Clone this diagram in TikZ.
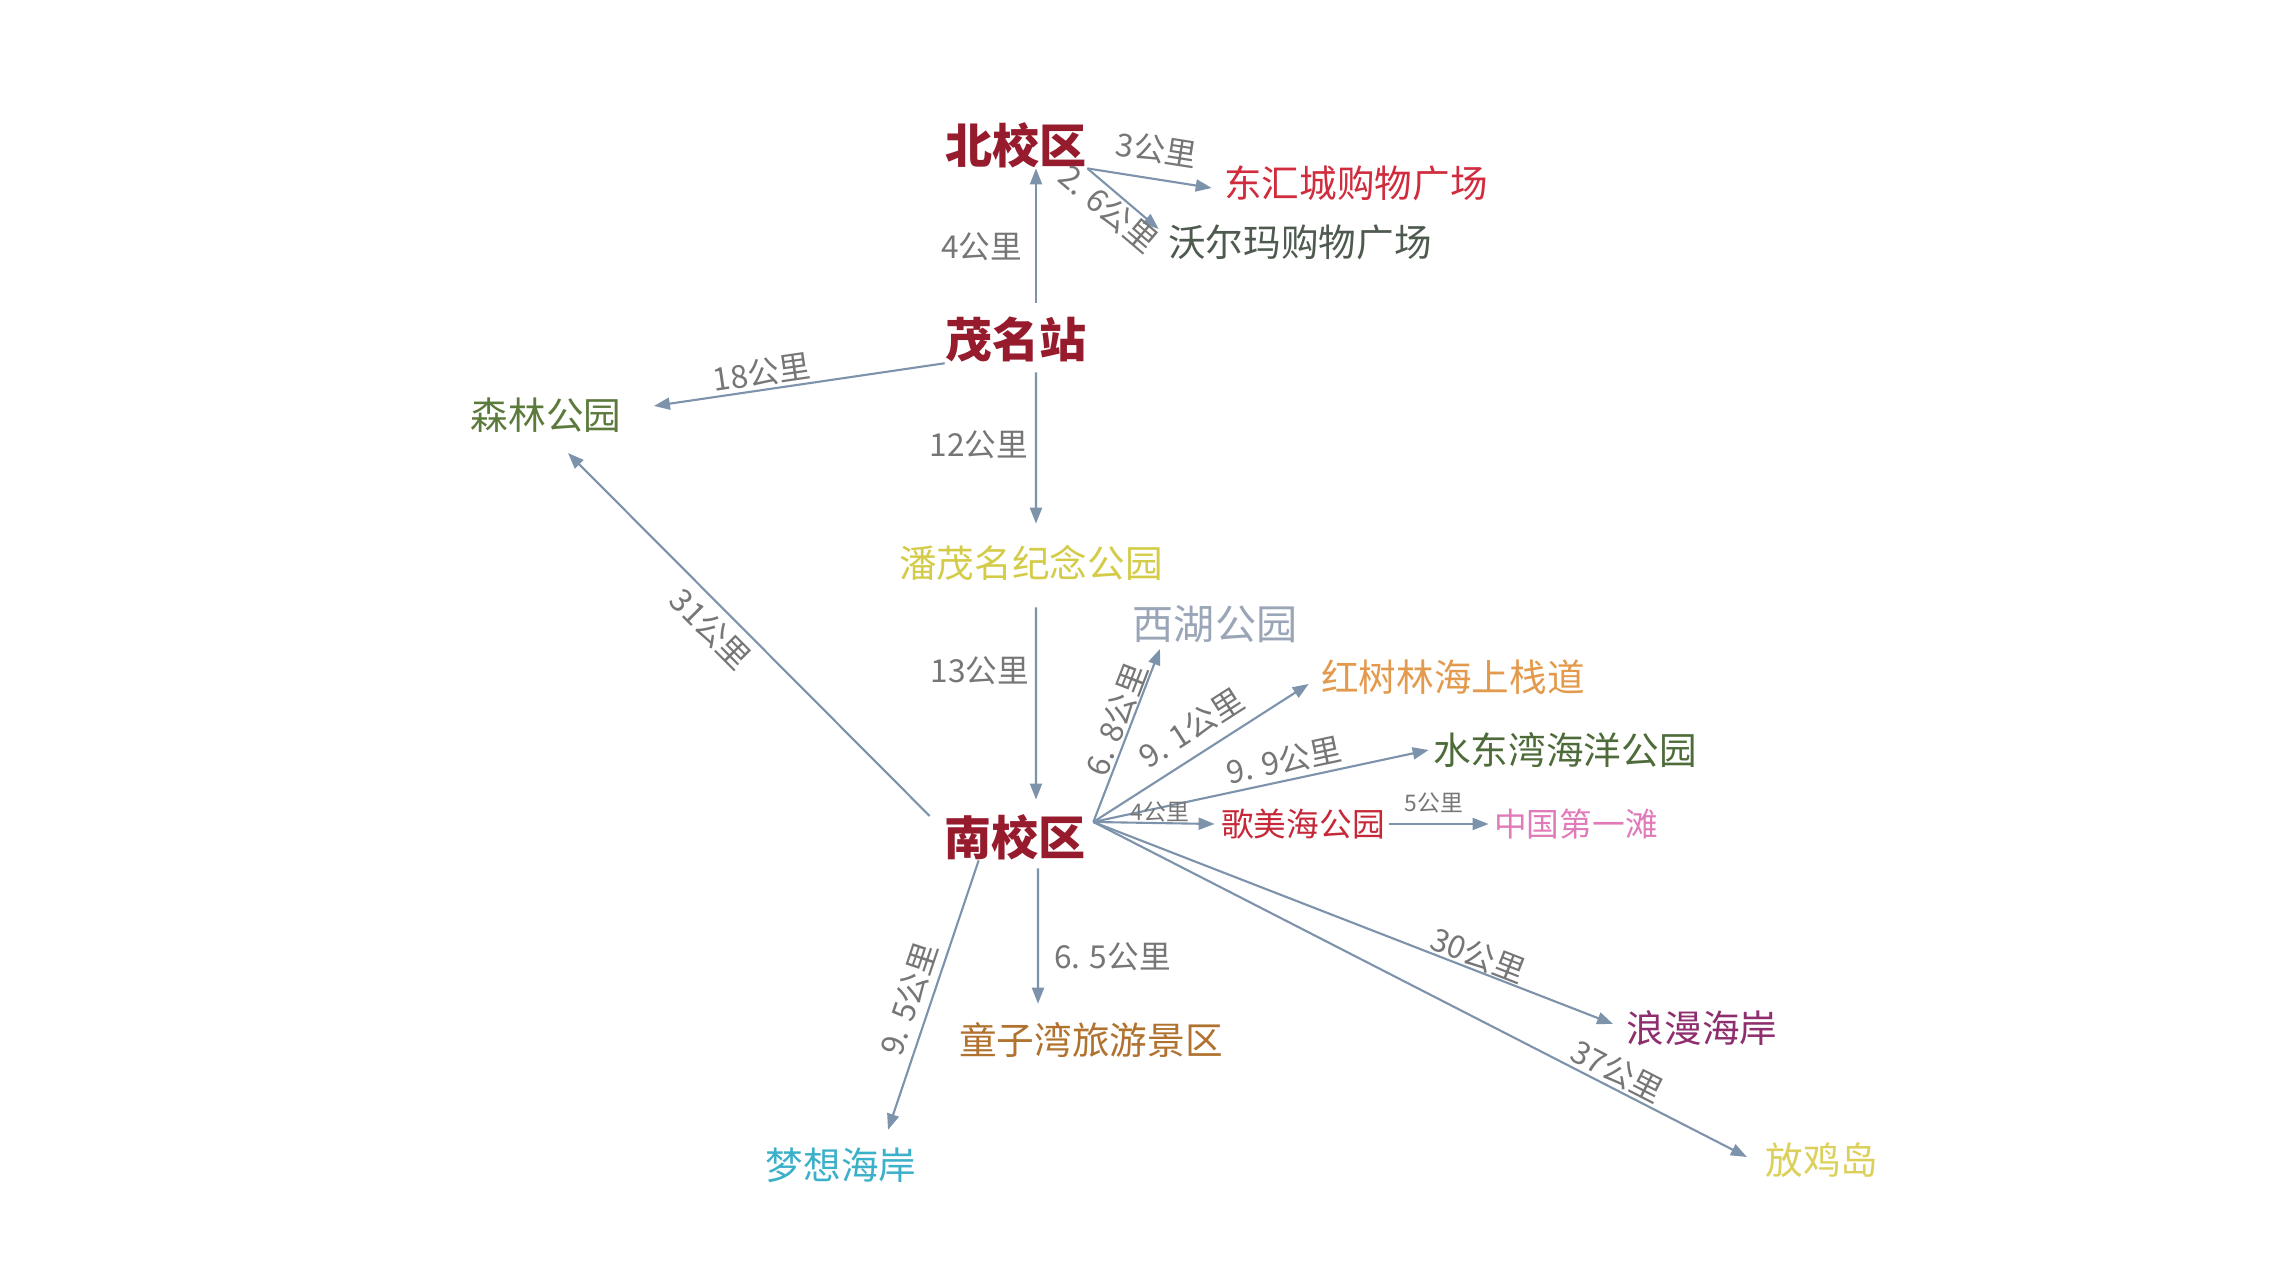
\documentclass[tikz,border=0pt]{standalone}
\usepackage{fontspec}
\setmainfont{Noto Sans CJK SC}
\usetikzlibrary{arrows.meta}
\definecolor{campusred}{HTML}{961B2D}
\definecolor{donghuired}{HTML}{D02C3E}
\definecolor{walmartgray}{HTML}{4F5A4F}
\definecolor{forestgreen}{HTML}{5B7A3C}
\definecolor{panyellow}{HTML}{D4CC48}
\definecolor{xihublue}{HTML}{9AA6B8}
\definecolor{mangroveorange}{HTML}{E39A4C}
\definecolor{seagreen}{HTML}{4E6B3A}
\definecolor{gemeired}{HTML}{C62838}
\definecolor{beachpink}{HTML}{E07AB8}
\definecolor{romancepurple}{HTML}{8E2E6E}
\definecolor{islandyellow}{HTML}{DCD05A}
\definecolor{bayorange}{HTML}{B0722E}
\definecolor{dreamcyan}{HTML}{3BB0C9}
\definecolor{distgray}{HTML}{767676}
\definecolor{roadblue}{HTML}{7D93AB}
\begin{document}
\begin{tikzpicture}[
  every node/.style={inner sep=0pt},
  campus/.style={font=\fontsize{13.4}{15}\selectfont\bfseries, text=campusred},
  spot/.style={font=\fontsize{10.7}{12}\selectfont},
  dist/.style={font=\fontsize{9}{10}\selectfont, text=distgray},
  distsmall/.style={font=\fontsize{6.5}{7}\selectfont, text=distgray},
  road/.style={draw=roadblue, line width=0.6pt, -{Triangle[length=1.6mm,width=1.2mm]}}
]
\fill[white] (0,0) rectangle (22.74,-12.80);
\useasboundingbox (0,0) rectangle (22.74,-12.80);
% campuses and station
\node[campus] (bei) at (10.16,-1.45) {北校区};
\node[campus] (maoming) at (10.16,-3.40) {茂名站};
\node[campus] (nan) at (10.15,-8.37) {南校区};
% places
\node[spot, text=donghuired] (donghui) at (13.56,-1.83) {东汇城购物广场};
\node[spot, text=walmartgray] (walmart) at (13.00,-2.42) {沃尔玛购物广场};
\node[spot, text=forestgreen] (senlin) at (5.46,-4.15) {森林公园};
\node[spot, text=panyellow] (panmaoming) at (10.31,-5.63) {潘茂名纪念公园};
\node[spot, text=xihublue, font=\fontsize{11.7}{13}\selectfont] (xihu) at (12.15,-6.24) {西湖公园};
\node[spot, text=mangroveorange] (hongshu) at (14.53,-6.77) {红树林海上栈道};
\node[spot, text=seagreen] (shuidong) at (15.65,-7.50) {水东湾海洋公园};
\node[spot, text=gemeired, font=\fontsize{9.3}{11}\selectfont] (gemei) at (13.03,-8.24) {歌美海公园};
\node[spot, text=beachpink, font=\fontsize{9.3}{11}\selectfont] (zhongguo) at (15.76,-8.24) {中国第一滩};
\node[spot, text=romancepurple] (langman) at (17.02,-10.28) {浪漫海岸};
\node[spot, text=islandyellow] (fangji) at (18.22,-11.60) {放鸡岛};
\node[spot, text=bayorange] (tongzi) at (10.91,-10.40) {童子湾旅游景区};
\node[spot, text=dreamcyan] (mengxiang) at (8.41,-11.65) {梦想海岸};
% north part
\draw[road] ([shift={(0.2,0.14)}]maoming.north) -- node[dist, left=0.13cm, pos=0.42] {4公里} ([xshift=0.2cm]bei.south);
\draw[road] (bei.south east) -- node[dist, sloped, above=0.14cm, pos=0.52] {3公里} ([shift={(-0.12,-0.05)}]donghui.west);
\draw[road] (bei.south east) -- node[dist, sloped, below=0.02cm, pos=0.45] {2. 6公里} ([shift={(-0.09,0.13)}]walmart.west);
\draw[road] (maoming.south west) -- node[dist, sloped, above=0.02cm, pos=0.62] {18公里} ([shift={(0.32,0.09)}]senlin.east);
\draw[road] ([shift={(0.2,-0.09)}]maoming.south) -- node[dist, left=0.07cm, pos=0.48] {12公里} ([shift={(0.05,0.21)}]panmaoming.north);
\draw[road] ([shift={(0.05,-0.26)}]panmaoming.south) -- node[dist, left=0.06cm, pos=0.33] {13公里} ([shift={(0.21,0.14)}]nan.north);
\draw[road] ([shift={(-0.14,0.21)}]nan.west) -- node[dist, sloped, below=0.08cm, pos=0.56] {31公里} ([shift={(0.22,-0.2)}]senlin.south);
% south campus fan
\draw[road] ([shift={(0.07,0.15)}]nan.east) -- node[dist, sloped, above=0cm, pos=0.56] {6. 8公里} ([shift={(-0.55,-0.055)}]xihu.south);
\draw[road] ([shift={(0.07,0.15)}]nan.east) -- node[dist, sloped, above=0.11cm, pos=0.52] {9. 1公里} ([shift={(-0.12,-0.07)}]hongshu.west);
\draw[road] ([shift={(0.07,0.15)}]nan.east) -- node[dist, sloped, above=0.05cm, pos=0.58] {9. 9公里} ([xshift=-0.04cm]shuidong.west);
\draw[road] ([shift={(0.07,0.15)}]nan.east) -- node[distsmall, above=0cm, pos=0.55] {4公里} ([xshift=-0.06cm]gemei.west);
\draw[road] ([xshift=0.04cm]gemei.east) -- node[distsmall, above=0.1cm, pos=0.45] {5公里} ([xshift=-0.05cm]zhongguo.west);
\draw[road] ([shift={(0.07,0.15)}]nan.east) -- node[dist, sloped, above=0cm, pos=0.73] {30公里} ([shift={(-0.13,0.04)}]langman.west);
\draw[road] ([shift={(0.07,0.15)}]nan.east) -- node[dist, sloped, above=0.02cm, pos=0.79] {37公里} ([shift={(-0.18,0.03)}]fangji.west);
\draw[road] ([shift={(0.23,-0.08)}]nan.south) -- node[dist, right=0.15cm, pos=0.65] {6. 5公里} ([shift={(-0.53,0.18)}]tongzi.north);
\draw[road] ([xshift=0.35cm]nan.south west) -- node[dist, sloped, above=0.07cm, pos=0.54] {9. 5公里} ([shift={(0.47,0.17)}]mengxiang.north);
\end{tikzpicture}
\end{document}
